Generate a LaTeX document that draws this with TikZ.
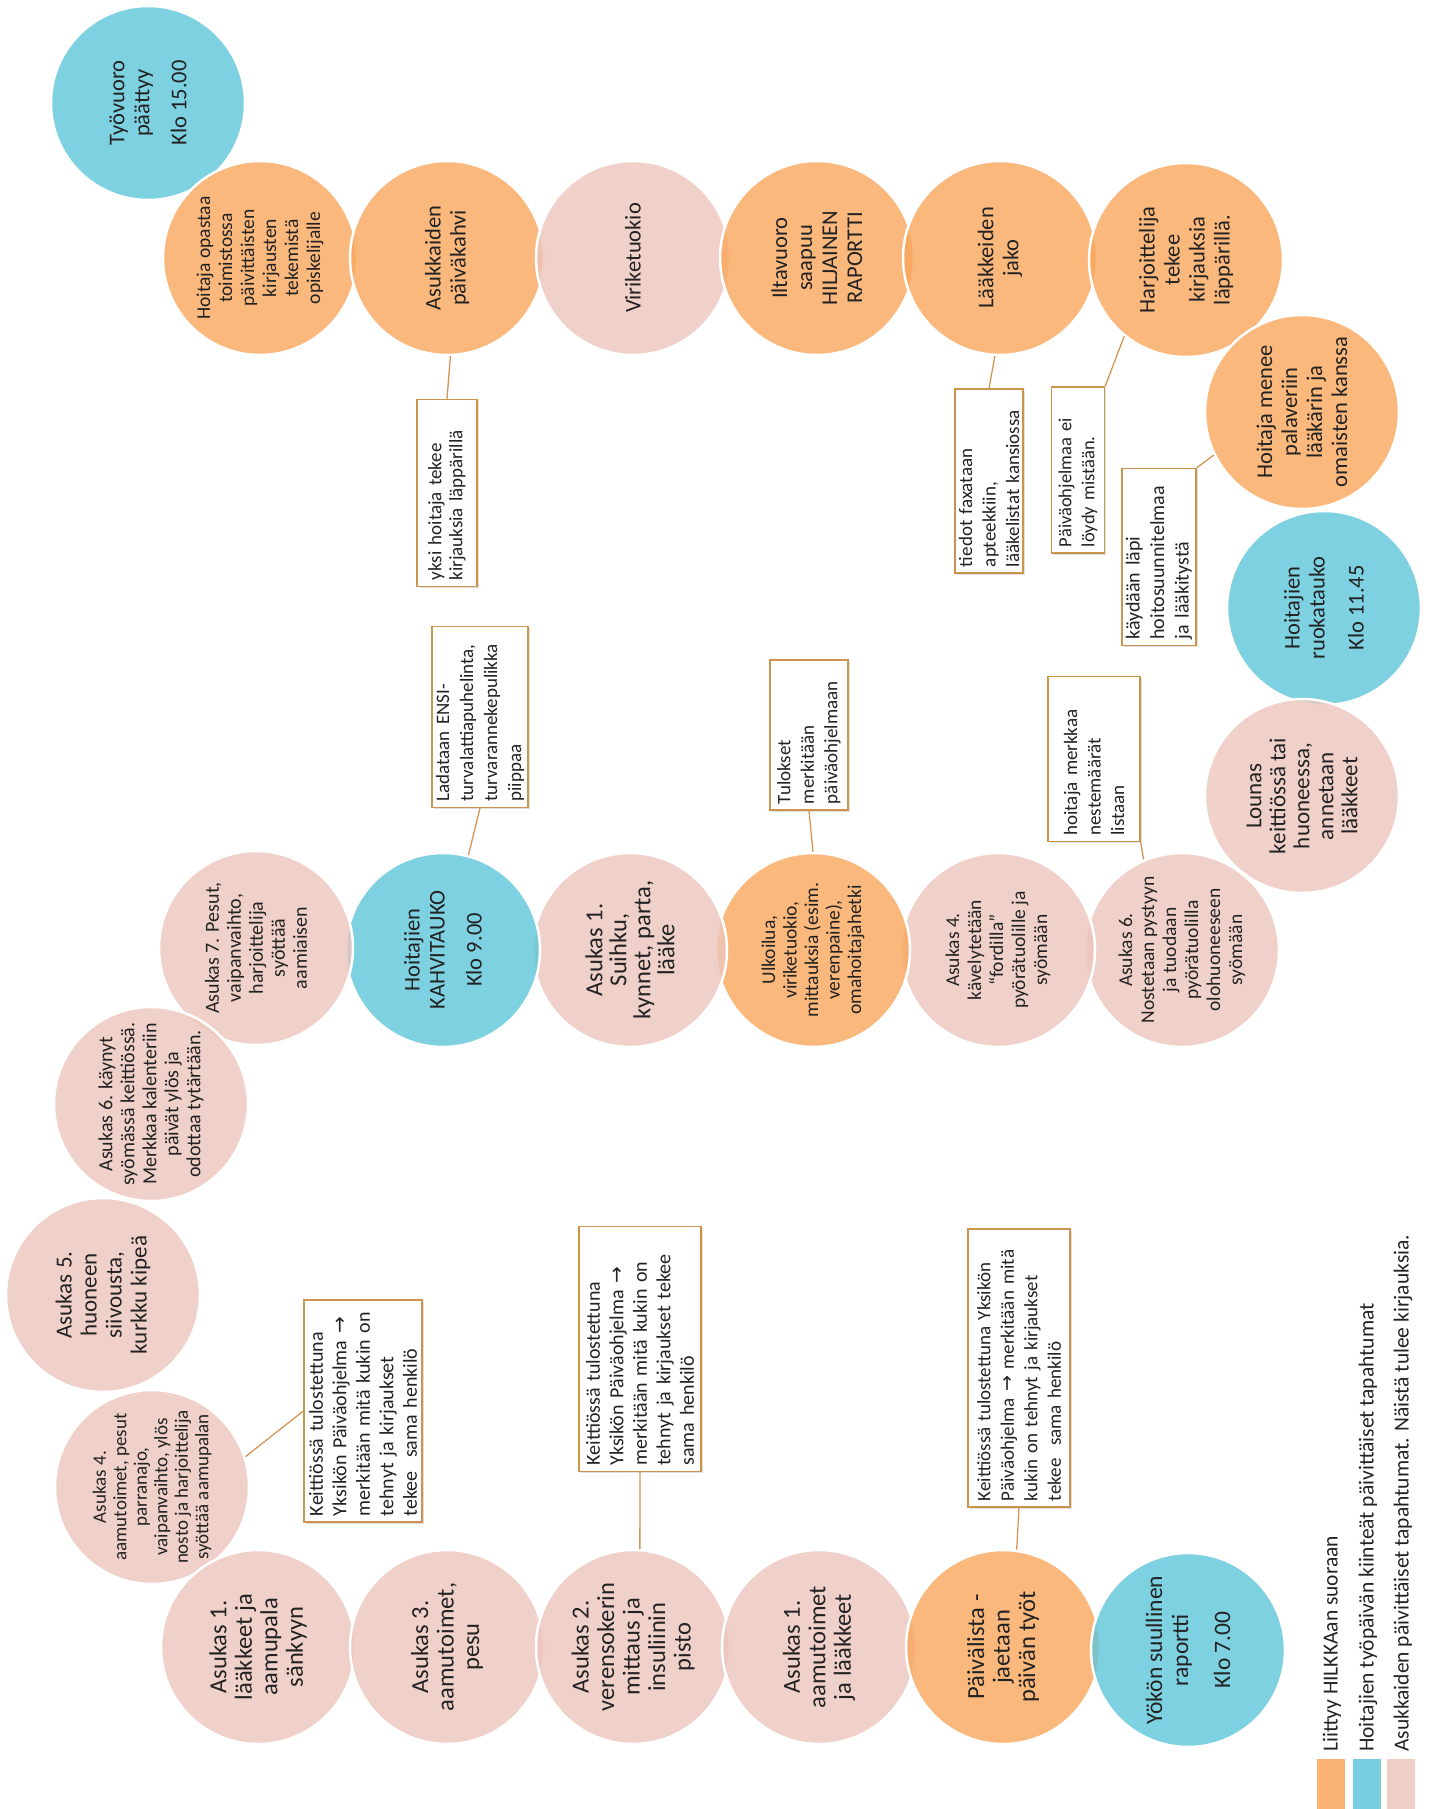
\documentclass[tikz,border=0pt]{standalone}
\usepackage{fontspec}
\setmainfont{Carlito}
\newfontfamily\arrowfont{DejaVu Sans}
\newcommand{\rarr}{{\arrowfont →}}
\usetikzlibrary{shadows}
\definecolor{corange}{RGB}{249,166,92}
\definecolor{cblue}{RGB}{94,197,217}
\definecolor{cpink}{RGB}{236,197,188}
\definecolor{cline}{RGB}{212,150,88}
\definecolor{cbox}{RGB}{205,148,78}
\definecolor{ctext}{RGB}{34,34,34}
\begin{document}
\begin{tikzpicture}[x=1pt,y=-1pt,
  circ/.style={circle, minimum size=194pt, inner sep=0pt, draw=white, line width=2.5pt, fill opacity=0.8},
  oc/.style={circ, fill=corange},
  bc/.style={circ, fill=cblue},
  pc/.style={circ, fill=cpink},
  ct/.style={rotate=90, align=center, text=ctext, inner sep=0pt, font=\fontsize{22.5}{25}\selectfont},
  ctb/.style={ct, font=\fontsize{24.5}{25.5}\selectfont},
  cts/.style={ct, font=\fontsize{19.5}{22}\selectfont},
  note/.style={rotate=90, draw=cbox, line width=1.3pt, fill=white, align=left, text=ctext,
     inner xsep=6pt, inner ysep=0pt, font=\fontsize{19}{23.5}\selectfont,
     drop shadow={shadow xshift=1.5pt, shadow yshift=-1.5pt, opacity=0.25}},
  conn/.style={draw=cline, line width=1.3pt},
  keybox/.style={minimum width=28pt, minimum height=50pt, inner sep=0pt, draw=none},
  legtext/.style={rotate=90, anchor=west, text=ctext, inner sep=0pt, font=\fontsize{21.5}{24}\selectfont}
]
\useasboundingbox (0,0) rectangle (1435,1809);

% circles
\node[bc] (c1) at (148,103) {};
\node[oc] (c2) at (260,258) {};
\node[oc] (c3) at (447,258) {};
\node[pc] (c4) at (633,258) {};
\node[oc] (c5) at (817,258) {};
\node[oc] (c6) at (1000,258) {};
\node[oc] (c7) at (1186,260) {};
\node[oc] (c8) at (1302,412) {};
\node[bc] (c9) at (1324,608) {};
\node[pc] (c10) at (1302,796) {};
\node[pc] (c11) at (1182,950) {};
\node[pc] (c12) at (998,950) {};
\node[oc] (c13) at (813,950) {};
\node[pc] (c14) at (630,950) {};
\node[bc] (c15) at (443,950) {};
\node[pc] (c16) at (256,948) {};
\node[pc] (c17) at (151,1104) {};
\node[pc] (c18) at (103,1295) {};
\node[pc] (c19) at (152,1487) {};
\node[pc] (c20) at (258,1647) {};
\node[pc] (c21) at (447,1647) {};
\node[pc] (c22) at (633,1647) {};
\node[pc] (c23) at (819,1647) {};
\node[oc] (c24) at (1003,1647) {};
\node[bc] (c25) at (1188,1650) {};

% circle texts
\node[ct] (t1) at (c1) {Työvuoro\\päättyy\\[12pt]Klo 15.00};
\node[cts] (t2) at (c2) {Hoitaja opastaa\\toimistossa\\päivittäisten\\kirjausten\\tekemistä\\opiskelijalle};
\node[ct] (t3) at (c3) {Asukkaiden\\päiväkahvi};
\node[ct] (t4) at (c4) {Viriketuokio};
\node[ct] (t5) at (c5) {Iltavuoro\\saapuu\\HILJAINEN\\RAPORTTI};
\node[ct] (t6) at (c6) {Lääkkeiden\\jako};
\node[ct] (t7) at (c7) {Harjoittelija\\tekee\\kirjauksia\\läppärillä.};
\node[ct] (t8) at (c8) {Hoitaja menee\\palaveriin\\lääkärin ja\\omaisten kanssa};
\node[ct] (t9) at (c9) {Hoitajien\\ruokatauko\\[14pt]Klo 11.45};
\node[ct, font=\fontsize{23}{24}\selectfont] (t10) at (c10) {Lounas\\keittiössä tai\\huoneessa,\\annetaan\\lääkkeet};
\node[cts] (t11) at (c11) {Asukas 6.\\Nostetaan pystyyn\\ja tuodaan\\pyörätuolilla\\olohuoneeseen\\syömään};
\node[cts] (t12) at (c12) {Asukas 4.\\kävelytetään\\“fordilla”\\pyörätuolille ja\\syömään};
\node[cts, font=\fontsize{19.5}{21.5}\selectfont] (t13) at (c13) {Ulkoilua,\\viriketuokio,\\mittauksia (esim.\\verenpaine),\\omahoitajahetki};
\node[ct, font=\fontsize{24.5}{24}\selectfont] (t14) at (c14) {Asukas 1.\\Suihku,\\kynnet, parta,\\lääke};
\node[ct] (t15) at (c15) {Hoitajien\\KAHVITAUKO\\[12pt]Klo 9.00};
\node[cts, font=\fontsize{20}{22}\selectfont] (t16) at (c16) {Asukas 7. Pesut,\\vaipanvaihto,\\harjoittelija\\syöttää\\aamiaisen};
\node[cts, font=\fontsize{20}{22}\selectfont] (t17) at (c17) {Asukas 6. käynyt\\syömässä keittiössä.\\Merkkaa kalenteriin\\päivät ylös ja\\odottaa tytärtään.};
\node[ct, font=\fontsize{23}{25}\selectfont] (t18) at (c18) {Asukas 5.\\huoneen\\siivousta,\\kurkku kipeä};
\node[cts, font=\fontsize{19}{20.5}\selectfont] (t19) at (c19) {Asukas 4.\\aamutoimet, pesut\\parranajo,\\vaipanvaihto, ylös\\nosto ja harjoittelija\\syöttää aamupalan};
\node[ctb] (t20) at (c20) {Asukas 1.\\lääkkeet ja\\aamupala\\sänkyyn};
\node[ctb] (t21) at (c21) {Asukas 3.\\aamutoimet,\\pesu};
\node[ctb] (t22) at (c22) {Asukas 2.\\verensokerin\\mittaus ja\\insuliinin\\pisto};
\node[ctb] (t23) at (c23) {Asukas 1.\\aamutoimet\\ja lääkkeet};
\node[ctb] (t24) at (c24) {Päivälista -\\jaetaan\\päivän työt};
\node[ct, font=\fontsize{23.5}{26}\selectfont] (t25) at (c25) {Yökön suullinen\\raportti\\[16pt]Klo 7.00};

% note boxes
\node[note, text width=175pt, minimum height=60pt, font=\fontsize{19}{21}\selectfont] (bA) at (447,493) {yksi hoitaja tekee\\kirjauksia läppärillä};
\node[note, text width=169pt, minimum height=96pt, font=\fontsize{19}{24}\selectfont] (bB) at (480,717) {Ladataan ENSI-\\turvalattiapuhelinta,\\turvarannekepulikka\\piippaa};
\node[note, text width=138pt, minimum height=78pt] (bC) at (809,735) {Tulokset\\merkitään\\päiväohjelmaan};
\node[note, text width=172pt, minimum height=68pt] (bD) at (989,481) {tiedot faxataan\\apteekkiin,\\lääkelistat kansiossa};
\node[note, text width=154pt, minimum height=53pt, font=\fontsize{18.5}{23}\selectfont] (bE) at (1078,470) {Päiväohjelmaa ei\\löydy mistään.};
\node[note, text width=165pt, minimum height=74pt, font=\fontsize{20}{24.5}\selectfont] (bF) at (1159,557) {käydään läpi\\hoitosuunnitelmaa\\ja lääkitystä};
\node[note, text width=153pt, minimum height=92pt] (bG) at (1094,759) {hoitaja merkkaa\\nestemäärät\\listaan};
\node[note, text width=210pt, minimum height=118pt, font=\fontsize{20}{23.5}\selectfont] (bH) at (363,1411) {Keittiössä tulostettuna\\Yksikön Päiväohjelma \rarr\\merkitään mitä kukin on\\tehnyt ja kirjaukset\\tekee\ \ sama henkilö};
\node[note, text width=233pt, minimum height=122pt, font=\fontsize{20}{23.5}\selectfont] (bI) at (640,1349) {Keittiössä tulostettuna\\Yksikön Päiväohjelma \rarr\\merkitään mitä kukin on\\tehnyt ja kirjaukset tekee\\sama henkilö};
\node[note, text width=266pt, minimum height=102pt] (bJ) at (1019,1368) {Keittiössä tulostettuna Yksikön\\Päiväohjelma \rarr{} merkitään mitä\\kukin on tehnyt ja kirjaukset\\tekee\ \ sama henkilö};

% connectors
\draw[conn] (bA.east) -- (c3.272);
\draw[conn] (bB.west) -- (c15.75);
\draw[conn] (bC.west) -- (c13.north);
\draw[conn] (bD.east) -- (c6.267);
\draw[conn] (bE.south east) -- (c7.231);
\draw[conn] (bF.south east) -- (c8.206);
\draw[conn] (bG.south west) -- (c11.113);
\draw[conn] (bH.north) -- (c19.18);
\draw[conn] (bI.west) -- (c22.86);
\draw[conn] (bJ.west) -- (c24.82);

% legend
\node[keybox, fill=corange!85] (k1) at (1331,1784) {};
\node[keybox, fill=cblue!85] (k2) at (1367,1784) {};
\node[keybox, fill=cpink!85] (k3) at (1401,1784) {};
\node[legtext] (l1) at (1332,1752) {Liittyy HILKKAan suoraan};
\node[legtext] (l2) at (1368,1752) {Hoitajien työpäivän kiinteät päivittäiset tapahtumat};
\node[legtext] (l3) at (1403,1752) {Asukkaiden päivittäiset tapahtumat. Näistä tulee kirjauksia.};
\end{tikzpicture}
\end{document}
